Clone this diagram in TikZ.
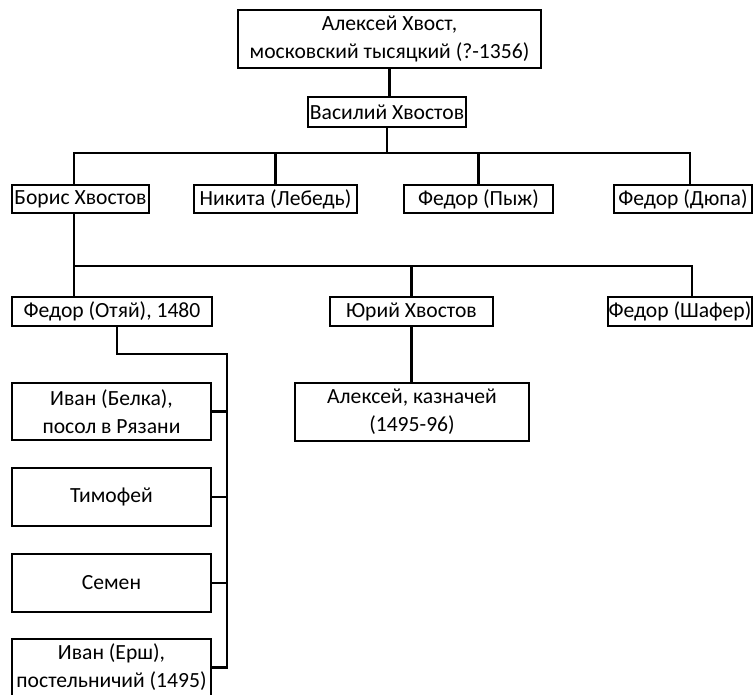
\documentclass[tikz,border=0pt]{standalone}
\usepackage{fontspec}
\setmainfont{Carlito}
\usetikzlibrary{calc}

\begin{document}
\begin{tikzpicture}[x=0.02cm, y=-0.02cm,
		person/.style 2 args={draw, line width=1.2pt, inner sep=0pt, align=center,
			minimum width=#1, minimum height=#2, font=\fontsize{12.3}{16}\selectfont},
		link/.style={line width=1.2pt}]
				\useasboundingbox (0, 0) rectangle (753, 695);
				
				% top of the family
				\node[person={6.06cm}{1.16cm}] (aleksey) at (389.5, 39) {Алексей Хвост,\\московский тысяцкий (?-1356)};
				\node[person={3.16cm}{0.6cm}] (vasily) at (387, 112) {Василий Хвостов};
				\draw[link] (aleksey.south) -- (aleksey.south |- vasily.north);
				
				\node[person={2.74cm}{0.56cm}] (boris) at (80.5, 199) {Борис Хвостов};
				\node[person={3.26cm}{0.56cm}] (nikita) at (275.5, 199) {Никита (Лебедь)};
				\node[person={2.98cm}{0.56cm}] (pyzh) at (478.5, 199) {Федор (Пыж)};
				\node[person={2.76cm}{0.56cm}] (dyupa) at (683, 199) {Федор (Дюпа)};
				
				\coordinate (bar1) at (389, 153);
				\draw[link] (vasily.south) -- (vasily.south |- bar1);
				\draw[link] ([xshift=-3.5]boris.north) |- (bar1) -| ([xshift=4]dyupa.north);
				\draw[link] (nikita.north) -- (nikita.north |- bar1);
				\draw[link] (pyzh.north) -- (pyzh.north |- bar1);
				
				% sons of Boris
				\node[person={4cm}{0.58cm}] (otyay) at (112, 311.5) {Федор (Отяй), 1480};
				\node[person={3.26cm}{0.58cm}] (yury) at (411.5, 311.5) {Юрий Хвостов};
				\node[person={2.88cm}{0.58cm}] (shafer) at (680, 311.5) {Федор (Шафер)};
				
				\coordinate (bar2) at (412, 266);
				\draw[link] ([xshift=-3.5]boris.south) -- ([xshift=-3.5]boris.south |- otyay.north);
				\draw[link] ([xshift=-3.5]boris.south |- bar2) -| ([xshift=7]shafer.north);
				\draw[link] (yury.north) -- (yury.north |- bar2);
				
				\node[person={4.68cm}{1.16cm}] (kaznachey) at (412, 412) {Алексей, казначей\\(1495-96)};
				\draw[link] (yury.south) -- (yury.south |- kaznachey.north);
				
				% sons of Fedor Otyay
				\node[person={3.98cm}{1.15cm}] (belka) at (111.5, 411.5) {Иван (Белка),\\посол в Рязани};
				\node[person={3.98cm}{1.16cm}] (timofey) at (111.5, 497) {Тимофей};
				\node[person={3.98cm}{1.16cm}] (semen) at (111.5, 583) {Семен};
				\node[person={3.98cm}{1.14cm}] (ersh) at (111.5, 667.5) {Иван (Ерш),\\постельничий (1495)};
				
				\coordinate (trunk) at (227, 354);
				\draw[link] ([xshift=3]otyay.south) |- (trunk) -- (trunk |- ersh.east) -- (ersh.east);
				\foreach \son in {belka, timofey, semen}
					\draw[link] (\son.east) -- (trunk |- \son.east);
			\end{tikzpicture}
\end{document}
